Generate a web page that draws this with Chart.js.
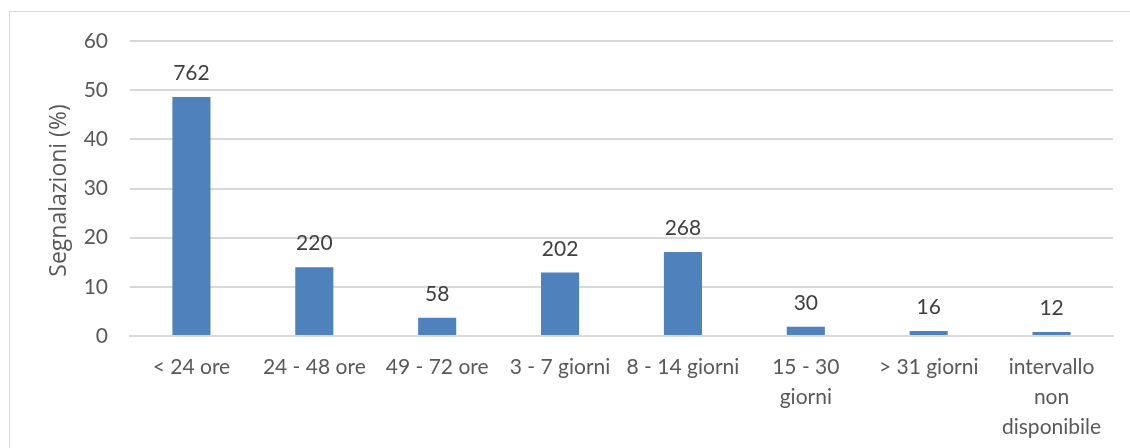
<!DOCTYPE html>
<html>
<head>
<meta charset="utf-8">
<script src="https://cdn.jsdelivr.net/npm/chart.js@4.4.1/dist/chart.umd.min.js"></script>
<style>
  html, body { margin: 0; padding: 0; background: #ffffff; }
  #wrap { position: relative; width: 1130px; height: 448px; }
</style>
</head>
<body>
<div id="wrap"><canvas id="c" width="1130" height="448"></canvas></div>
<script>
const categories = [
  '< 24 ore',
  '24 - 48 ore',
  '49 - 72 ore',
  '3 - 7 giorni',
  '8 - 14 giorni',
  ['15 - 30', 'giorni'],
  '> 31 giorni',
  ['intervallo', 'non', 'disponibile']
];
const percentValues = [48.6, 14.0, 3.7, 12.9, 17.1, 1.9, 1.0, 0.8];
const countLabels = ['762', '220', '58', '202', '268', '30', '16', '12'];
const yTicks = [0, 10, 20, 30, 40, 50, 60];
const yTitle = 'Segnalazioni (%)';

const FONT = 'Lato, "Open Sans", "Liberation Sans", sans-serif';

const frame = {
  id: 'frame',
  beforeDraw(chart) {
    const ctx = chart.ctx;
    ctx.save();
    ctx.strokeStyle = '#d9d9d9';
    ctx.lineWidth = 1;
    ctx.beginPath();
    ctx.moveTo(9.5, 448);
    ctx.lineTo(9.5, 11.5);
    ctx.lineTo(1130, 11.5);
    ctx.stroke();
    ctx.restore();
  }
};

const valueLabels = {
  id: 'valueLabels',
  afterDatasetsDraw(chart) {
    const ctx = chart.ctx;
    const meta = chart.getDatasetMeta(0);
    ctx.save();
    ctx.fillStyle = '#404040';
    ctx.font = '21px ' + FONT;
    ctx.textAlign = 'center';
    ctx.textBaseline = 'alphabetic';
    meta.data.forEach((bar, i) => {
      ctx.fillText(countLabels[i], bar.x, bar.y - 17);
    });
    ctx.restore();
  }
};

const axisTitle = {
  id: 'axisTitle',
  afterDraw(chart) {
    const ctx = chart.ctx;
    const area = chart.chartArea;
    ctx.save();
    ctx.fillStyle = '#595959';
    ctx.font = '23px "Open Sans", Lato, sans-serif';
    ctx.textAlign = 'center';
    ctx.textBaseline = 'middle';
    ctx.translate(59, (area.top + area.bottom) / 2 + 2);
    ctx.rotate(-Math.PI / 2);
    ctx.fillText(yTitle, 0, 0);
    ctx.restore();
  }
};

new Chart(document.getElementById('c'), {
  type: 'bar',
  data: {
    labels: categories,
    datasets: [{
      data: percentValues,
      backgroundColor: '#4f81bd',
      borderWidth: 0,
      barPercentage: 0.31,
      categoryPercentage: 1.0
    }]
  },
  options: {
    responsive: false,
    animation: false,
    devicePixelRatio: 1,
    layout: { padding: { top: 41, right: 17, bottom: 0, left: 0 } },
    plugins: {
      legend: { display: false },
      tooltip: { enabled: false }
    },
    scales: {
      x: {
        grid: { display: false, drawTicks: false },
        border: { display: true, color: '#d9d9d9', width: 2 },
        ticks: {
          color: '#595959',
          font: { family: FONT, size: 21, lineHeight: 1.43 },
          padding: 16,
          maxRotation: 0,
          autoSkip: false
        },
        afterFit(scale) { scale.height = 112; }
      },
      y: {
        min: 0,
        max: 60,
        afterBuildTicks(scale) { scale.ticks = yTicks.map(v => ({ value: v })); },
        grid: { color: '#d9d9d9', lineWidth: 2, drawTicks: false },
        border: { display: false },
        ticks: {
          color: '#595959',
          font: { family: FONT, size: 21 },
          padding: 22
        },
        title: { display: false },
        afterFit(scale) { scale.width = 130; }
      }
    }
  },
  plugins: [frame, valueLabels, axisTitle]
});
</script>
</body>
</html>
